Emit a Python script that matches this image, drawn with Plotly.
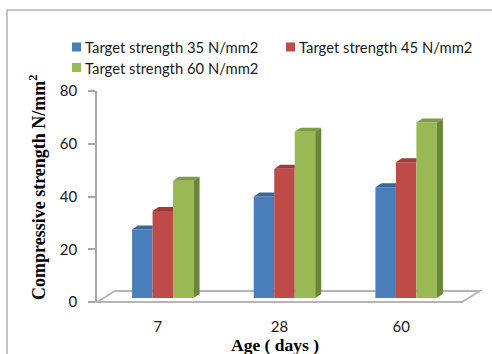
import plotly.graph_objects as go

# ---- data ----
ages = ["7", "28", "60"]
series_names = [
    "Target strength 35 N/mm2",
    "Target strength 45 N/mm2",
    "Target strength 60 N/mm2",
]
strength_35 = [26.0, 38.5, 42.0]
strength_45 = [33.0, 49.0, 51.5]
strength_60 = [44.5, 63.0, 66.5]
y_ticks = [0, 20, 40, 60, 80]

series_values = [strength_35, strength_45, strength_60]
front_colors = ["#4a7ebb", "#be4b48", "#98b954"]
top_colors = ["#3a6699", "#9e3b39", "#7f9c45"]
side_color = "#6b8638"

# ---- canvas geometry (pixels) ----
W, H = 492, 354
L, R, T, B = 97, 30, 91, 52
PW, PH = W - L - R, H - T - B
Y_MAX = 80
px_per_cat = PW / 3.0
px_per_val = PH / Y_MAX

# bars sit slightly inside the floor depth
SHIFT_X, SHIFT_Y = 5, 4
# 3D face depth
DX_PX, DY_PX = 6, 4
dx = DX_PX / px_per_cat
dy = DY_PX / px_per_val

bar_w = 20.5 / px_per_cat
offsets = [-1.5 * bar_w, -0.5 * bar_w, 0.5 * bar_w]
xpos = list(range(len(ages)))


def pxx(p):
    return (p - L) / PW


def pxy(p):
    return (T + PH - p) / PH


fig = go.Figure()

# empty trace so the visible value/category axes get drawn
fig.add_trace(go.Scatter(x=[None], y=[None], mode="markers", showlegend=False,
                         hoverinfo="skip", xaxis="x", yaxis="y"))

# front faces of the bars
for name, vals, col, off in zip(series_names, series_values, front_colors, offsets):
    fig.add_trace(go.Bar(
        x=xpos, y=vals, name=name, width=bar_w, offset=off,
        marker=dict(color=col, line=dict(width=0)),
        xaxis="x2", yaxis="y2", showlegend=False, hoverinfo="skip",
    ))

# top faces (clipped where the taller neighbour hides them) and right side faces
last = len(series_values) - 1
for si, (vals, tcol, off) in enumerate(zip(series_values, top_colors, offsets)):
    for xi, v in zip(xpos, vals):
        xl = xi + off
        xr = xl + bar_w
        if si < last:
            px_ = [xl, xr, xr, xl + dx, xl]
        else:
            px_ = [xl, xr, xr + dx, xl + dx, xl]
        py_ = [v, v, v + dy, v + dy, v]
        fig.add_trace(go.Scatter(
            x=px_, y=py_, fill="toself", fillcolor=tcol, mode="lines",
            line=dict(width=0, color=tcol), xaxis="x2", yaxis="y2",
            showlegend=False, hoverinfo="skip",
        ))
        if si == last:
            fig.add_trace(go.Scatter(
                x=[xr, xr + dx, xr + dx, xr, xr],
                y=[0, dy, v + dy, v, 0],
                fill="toself", fillcolor=side_color, mode="lines",
                line=dict(width=0, color=side_color), xaxis="x2", yaxis="y2",
                showlegend=False, hoverinfo="skip",
            ))

shapes = []
# outer chart border
shapes.append(dict(type="rect", xref="paper", yref="paper",
                   x0=pxx(7), x1=pxx(W + 10), y0=pxy(H + 10), y1=pxy(10),
                   line=dict(color="#8a8a8a", width=1), layer="below"))
# floor of the 3D plot
floor = [(97, 302), (462, 302), (480, 291), (115, 291)]
path = "M" + " L".join(f"{pxx(a):.5f},{pxy(b):.5f}" for a, b in floor) + " Z"
shapes.append(dict(type="path", xref="paper", yref="paper", path=path,
                   fillcolor="white", line=dict(color="#b5b5b5", width=1.8),
                   layer="below"))

annotations = []
# legend
legend_pos = [(72, 47), (286, 47), (72, 67.5)]
for name, col, (lx, ly) in zip(series_names, front_colors, legend_pos):
    shapes.append(dict(type="rect", xref="paper", yref="paper",
                       x0=pxx(lx), x1=pxx(lx + 9), y0=pxy(ly + 4.5), y1=pxy(ly - 4.5),
                       fillcolor=col, line=dict(width=0)))
    annotations.append(dict(text=name, xref="paper", yref="paper",
                            x=pxx(lx + 11), y=pxy(ly), xanchor="left", yanchor="middle",
                            showarrow=False,
                            font=dict(family="Lato", size=14.8, color="#1a1a1a")))

# axis titles
annotations.append(dict(text="<b>Compressive strength N/mm<sup>2</sup></b>", textangle=-90,
                        xref="paper", yref="paper", x=pxx(37), y=pxy(187),
                        xanchor="center", yanchor="middle", showarrow=False,
                        font=dict(family="Liberation Serif", size=18, color="black")))
annotations.append(dict(text="<b>Age ( days )</b>",
                        xref="paper", yref="paper", x=pxx(275), y=pxy(345),
                        xanchor="center", yanchor="middle", showarrow=False,
                        font=dict(family="Liberation Serif", size=17.5, color="black")))

fig.update_layout(
    width=W, height=H,
    margin=dict(l=L, r=R, t=T, b=B, pad=0),
    paper_bgcolor="white", plot_bgcolor="rgba(0,0,0,0)",
    barmode="overlay", showlegend=False,
    xaxis=dict(range=[-0.5, 2.5], domain=[0, 1], tickvals=xpos, ticktext=ages,
               showline=False, showgrid=False, zeroline=False, ticks="",
               ticklabelstandoff=14,
               tickfont=dict(family="Lato", size=15, color="#1a1a1a")),
    yaxis=dict(range=[0, Y_MAX], domain=[0, 1], tickvals=y_ticks,
               showline=True, linecolor="#a6a6a6", linewidth=1.5,
               ticks="outside", ticklen=7, tickcolor="#a6a6a6", tickwidth=1.5,
               showgrid=False, zeroline=False, ticklabelstandoff=8,
               tickfont=dict(family="Lato", size=15, color="#1a1a1a")),
    xaxis2=dict(range=[-0.5, 2.5 - SHIFT_X / px_per_cat], domain=[SHIFT_X / PW, 1],
                anchor="y2", visible=False),
    yaxis2=dict(range=[0, Y_MAX - SHIFT_Y / px_per_val], domain=[SHIFT_Y / PH, 1],
                anchor="x2", visible=False),
    shapes=shapes, annotations=annotations,
)

fig.write_html("out.html")
